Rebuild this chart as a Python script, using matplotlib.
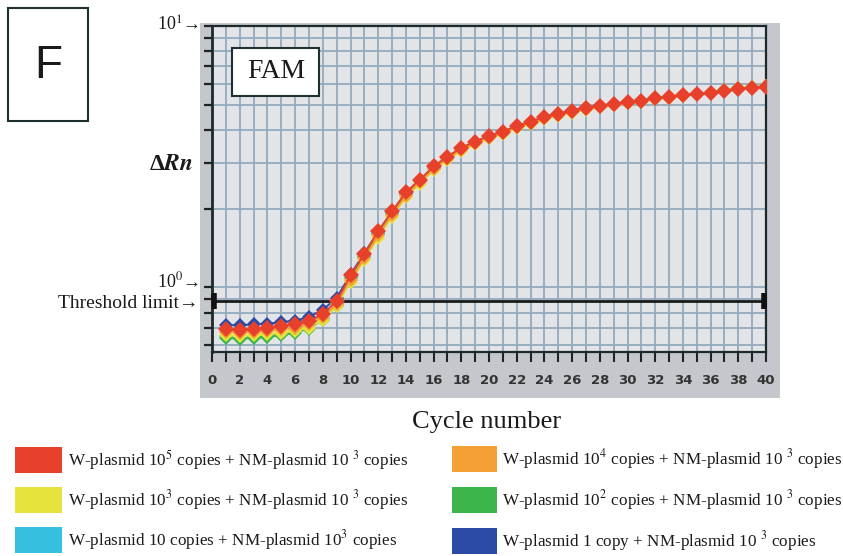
import matplotlib
matplotlib.use("Agg")
import matplotlib.pyplot as plt
from matplotlib.patches import Rectangle
from matplotlib.ticker import LogLocator, NullFormatter, MultipleLocator

plt.rcParams['mathtext.fontset'] = 'stix'

cycles = list(range(1, 41))

red = [0.69, 0.685, 0.69, 0.70, 0.71, 0.72, 0.74, 0.79, 0.885, 1.11, 1.34, 1.64, 1.95, 2.31, 2.58,
       2.90, 3.16, 3.42, 3.61, 3.80, 3.94, 4.15, 4.30, 4.50, 4.62, 4.74, 4.87, 4.95, 5.04, 5.13,
       5.18, 5.31, 5.36, 5.45, 5.50, 5.55, 5.65, 5.75, 5.80, 5.85]
blue = [0.715, 0.715, 0.72, 0.725, 0.735, 0.745, 0.77, 0.82, 0.91, 1.12, 1.35, 1.63, 1.94, 2.29, 2.57,
        2.88, 3.15, 3.40, 3.60, 3.79, 3.93, 4.13, 4.29, 4.48, 4.61, 4.73, 4.86, 4.94, 5.03, 5.12,
        5.17, 5.30, 5.35, 5.44, 5.49, 5.54, 5.64, 5.74, 5.79, 5.84]
orange = [0.675, 0.67, 0.675, 0.68, 0.69, 0.70, 0.72, 0.77, 0.86, 1.07, 1.29, 1.58, 1.89, 2.24, 2.52,
          2.83, 3.10, 3.36, 3.55, 3.74, 3.88, 4.09, 4.24, 4.44, 4.57, 4.69, 4.82, 4.90, 4.99, 5.08,
          5.14, 5.26, 5.32, 5.41, 5.47, 5.52, 5.62, 5.72, 5.78, 5.84]
yellow = [0.655, 0.65, 0.655, 0.66, 0.67, 0.68, 0.70, 0.75, 0.845, 1.05, 1.27, 1.55, 1.86, 2.21, 2.49,
          2.80, 3.07, 3.33, 3.52, 3.71, 3.85, 4.06, 4.21, 4.41, 4.54, 4.66, 4.79, 4.88, 4.97, 5.06,
          5.12, 5.24, 5.30, 5.40, 5.48, 5.56, 5.68, 5.78, 5.84, 5.90]
green = [0.64, 0.635, 0.64, 0.645, 0.655, 0.67, 0.695, 0.75, 0.85, 1.08, 1.31, 1.60, 1.91, 2.27, 2.55,
         2.86, 3.13, 3.39, 3.58, 3.77, 3.91, 4.12, 4.27, 4.47, 4.60, 4.72, 4.85, 4.93, 5.02, 5.11,
         5.16, 5.29, 5.35, 5.44, 5.50, 5.56, 5.67, 5.77, 5.83, 5.89]
cyan = [0.648, 0.643, 0.648, 0.653, 0.663, 0.678, 0.70, 0.755, 0.86, 1.09, 1.32, 1.61, 1.92, 2.28, 2.56,
        2.87, 3.14, 3.40, 3.59, 3.78, 3.92, 4.13, 4.28, 4.48, 4.61, 4.73, 4.86, 4.94, 5.03, 5.12,
        5.17, 5.30, 5.35, 5.44, 5.49, 5.55, 5.65, 5.75, 5.81, 5.86]

threshold = 0.885

labels = [
    'W-plasmid 10$^5$ copies + NM-plasmid 10 $^3$ copies',
    'W-plasmid 10$^3$ copies + NM-plasmid 10 $^3$ copies',
    'W-plasmid 10 copies + NM-plasmid 10$^3$ copies',
    'W-plasmid 10$^4$ copies + NM-plasmid 10 $^3$ copies',
    'W-plasmid 10$^2$ copies + NM-plasmid 10 $^3$ copies',
    'W-plasmid 1 copy + NM-plasmid 10 $^3$ copies',
]
colors = ['#e8412b', '#e6e43c', '#35c0e0', '#f5a035', '#3cb54a', '#2b4aa5']

W, H = 843, 556
fig = plt.figure(figsize=(W / 100, H / 100), dpi=100)
fig.patch.set_facecolor('white')

def fx(px):
    return px / W

def fy(py):
    return 1 - py / H

serif = ['Liberation Serif', 'DejaVu Serif']
txtc = '#1a1a1a'

# gray panel
fig.patches.append(Rectangle((fx(200), fy(398)), fx(780) - fx(200), fy(23) - fy(398),
                             transform=fig.transFigure, facecolor='#c4c7cc', edgecolor='none', zorder=0))

ax = fig.add_axes([fx(212), fy(352), fx(766) - fx(212), fy(26) - fy(352)])
ax.set_zorder(2)
ax.set_facecolor('#e3e4e8')
ax.set_yscale('log')
ax.set_xlim(0, 40)
ax.set_ylim(0.565, 10)

ax.yaxis.set_major_locator(LogLocator(base=10, subs=(1.0,)))
ax.yaxis.set_minor_locator(LogLocator(base=10, subs=(2, 3, 4, 5, 6, 7, 8, 9)))
ax.yaxis.set_major_formatter(NullFormatter())
ax.yaxis.set_minor_formatter(NullFormatter())
ax.xaxis.set_major_locator(MultipleLocator(2))
ax.xaxis.set_minor_locator(MultipleLocator(1))

ax.grid(which='both', color='#93aabd', linewidth=1.3, zorder=1)
ax.set_axisbelow(True)

ax.tick_params(axis='y', which='both', direction='out', length=6, width=1.6, color='#222')
ax.tick_params(axis='x', which='both', direction='out', length=7, width=1.5, color='#222', pad=9)
for lab in ax.get_xticklabels():
    lab.set_fontsize(9.5)
    lab.set_fontweight('bold')
    lab.set_color('#333')

for s in ax.spines.values():
    s.set_color('#1c2a2a')
    s.set_linewidth(1.6)
ax.spines['left'].set_linewidth(2)

# threshold
ax.axhline(threshold, color='#1a1a1a', linewidth=2, zorder=3)
ax.plot([0.15, 39.85], [threshold, threshold], linestyle='none', marker='|', markersize=11,
        markeredgewidth=4, color='#111', zorder=4, clip_on=False)

series = [(blue, colors[5], 7), (cyan, colors[2], 7), (green, colors[4], 7), (yellow, colors[1], 7.5),
          (orange, colors[3], 7.5), (red, colors[0], 8)]
for vals, c, ms in series:
    ax.plot(cycles, vals, color=c, linewidth=1.4, marker='D', markersize=ms,
            markeredgewidth=0, zorder=5)

# F box
fig.patches.append(Rectangle((fx(8), fy(121)), fx(88) - fx(8), fy(8) - fy(121),
                             transform=fig.transFigure, facecolor='white', edgecolor='#1f3030',
                             linewidth=1.5, zorder=2))
fig.text(fx(48), fy(66), 'F', family=['Liberation Sans', 'DejaVu Sans'], fontsize=33,
         ha='center', va='center', color=txtc, zorder=3)

# FAM box (inside axes)
famtrans = fig.transFigure
ax.add_patch(Rectangle((fx(232), fy(96)), fx(319) - fx(232), fy(48) - fy(96),
                       transform=famtrans, facecolor='white', edgecolor='#1f3030',
                       linewidth=1.5, zorder=6))
ax.text(fx(276), fy(72), 'FAM', transform=famtrans, family=serif, fontsize=20, ha='center',
        va='center', color=txtc, zorder=7)

# y-axis annotations
fig.text(fx(199), fy(25), '10$^{1}$→', family=serif, fontsize=13, ha='right', va='center', color=txtc)
fig.text(fx(193), fy(165), r'Δ$\boldsymbol{Rn}$', family=serif, fontsize=17, ha='right', va='center',
         color=txtc, fontweight='bold')
fig.text(fx(199), fy(281), '10$^{0}$→', family=serif, fontsize=13, ha='right', va='center', color=txtc)
fig.text(fx(198), fy(303), 'Threshold limit→', family=serif, fontsize=14, ha='right', va='center',
         color=txtc)

fig.text(fx(487), fy(422), 'Cycle number', family=serif, fontsize=19, ha='center', va='center',
         color=txtc)

# legend
left_rows = [(0, 460), (1, 500), (2, 540)]
right_rows = [(3, 459), (4, 500), (5, 541)]
for idx, yc in left_rows:
    fig.patches.append(Rectangle((fx(15), fy(yc + 13)), fx(62) - fx(15), fy(yc - 13) - fy(yc + 13),
                                 transform=fig.transFigure, facecolor=colors[idx], edgecolor='none'))
    fig.text(fx(68), fy(yc), labels[idx], family=serif, fontsize=12.3, ha='left', va='center', color=txtc)
for idx, yc in right_rows:
    fig.patches.append(Rectangle((fx(452), fy(yc + 13)), fx(497) - fx(452), fy(yc - 13) - fy(yc + 13),
                                 transform=fig.transFigure, facecolor=colors[idx], edgecolor='none'))
    fig.text(fx(502), fy(yc), labels[idx], family=serif, fontsize=12.3, ha='left', va='center', color=txtc)

fig.savefig('out.png', dpi=100)
